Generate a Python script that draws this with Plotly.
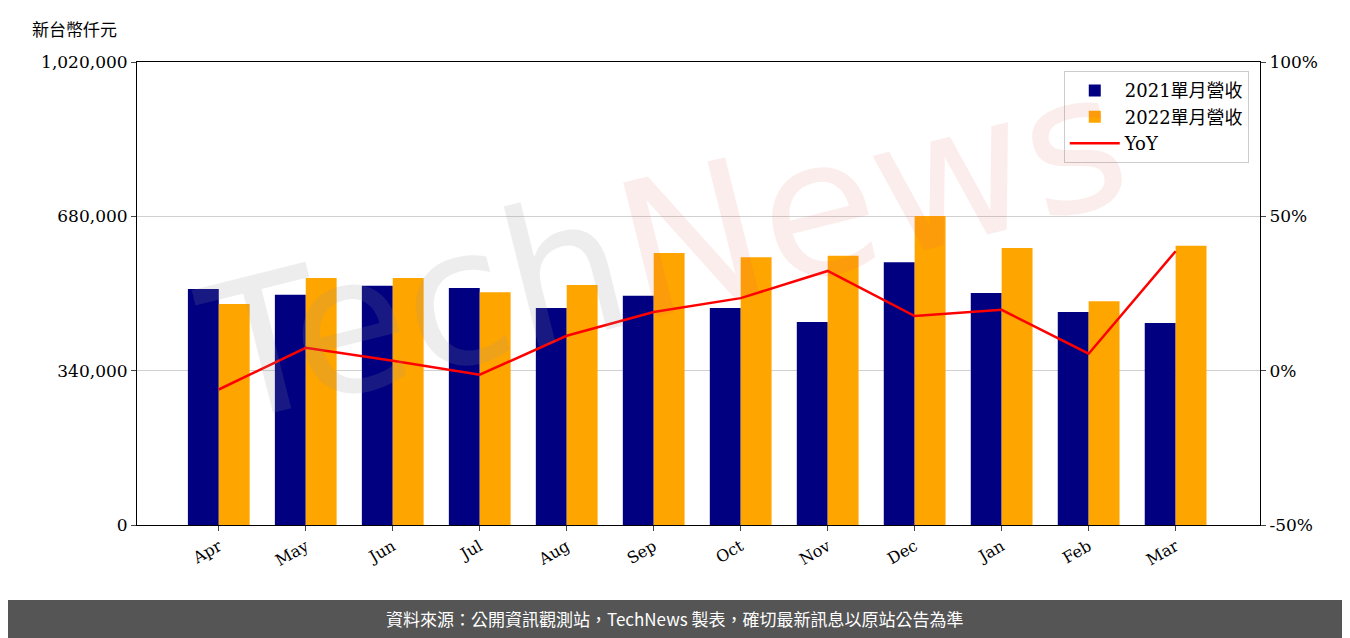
import plotly.graph_objects as go

months = ["Apr","May","Jun","Jul","Aug","Sep","Oct","Nov","Dec","Jan","Feb","Mar"]
rev2021 = [520000,507000,527000,522000,478000,505000,478000,447000,579000,511000,469000,445000]
rev2022 = [487000,544000,544000,513000,529000,599000,590000,593000,681000,610000,493000,615000]
yoy = [-6.1,7.4,3.2,-1.3,11.3,19.0,23.5,32.3,17.7,19.7,5.5,38.7]
left_ticks = [0,340000,680000,1020000]
right_ticks = [-50,0,50,100]
right_labels = ["-50%","0%","50%","100%"]

F = "DejaVu Serif, Noto Sans CJK TC"
fig = go.Figure()
fig.add_bar(x=months, y=rev2021, name="2021單月營收", marker_color="#000080", marker_line_width=0)
fig.add_bar(x=months, y=rev2022, name="2022單月營收", marker_color="#FFA500", marker_line_width=0)
fig.add_scatter(x=months, y=yoy, name="YoY", mode="lines", line=dict(color="red", width=2.5), yaxis="y2")

fig.update_layout(
    width=1350, height=638, barmode="group", bargap=0.29, bargroupgap=0,
    plot_bgcolor="white", paper_bgcolor="white",
    margin=dict(l=129, r=98, t=54, b=121, autoexpand=False),
    font=dict(family=F, size=17, color="black"),
    xaxis=dict(tickangle=-30, showline=True, linecolor="black", mirror=True, ticks="outside",
               tickfont=dict(size=16), automargin=False, range=[-0.94, 11.97]),
    yaxis=dict(range=[0,1020000], tickvals=left_ticks, tickformat=",", showgrid=True, gridcolor="#d0d0d0",
               showline=True, linecolor="black", ticks="outside", zeroline=False, automargin=False),
    yaxis2=dict(range=[-50,100], tickvals=right_ticks, ticktext=right_labels, overlaying="y", side="right",
                showgrid=False, showline=True, linecolor="black", ticks="outside", zeroline=False, automargin=False),
    legend=dict(x=0.99, y=0.98, xanchor="right", yanchor="top", bordercolor="#cccccc", borderwidth=1,
                bgcolor="rgba(255,255,255,0.8)", font=dict(size=18), itemwidth=50),
    showlegend=True,
)
fig.add_annotation(text="新台幣仟元", xref="paper", yref="paper", x=-0.095, y=1.073, xanchor="left",
                   yanchor="middle", showarrow=False, font=dict(size=17, family="Noto Sans CJK TC"))
fig.add_annotation(text="<span style='color:rgba(150,150,150,0.17)'>Tech</span><span style='color:rgba(230,90,90,0.11)'>News</span>",
                   xref="paper", yref="paper", x=0.47, y=0.6, textangle=-14, showarrow=False,
                   font=dict(size=190, family="DejaVu Sans"))
fig.add_shape(type="rect", xref="paper", yref="paper", x0=-1, x1=2, y0=-0.162, y1=-0.3,
              fillcolor="#555555", line_width=0, layer="above")
fig.add_annotation(text="資料來源：公開資訊觀測站，TechNews 製表，確切最新訊息以原站公告為準", xref="paper", yref="paper",
                   x=0.479, y=-0.203, yanchor="middle", showarrow=False,
                   font=dict(size=17, color="white", family="Noto Sans CJK TC"))
fig.write_html("out.html")
